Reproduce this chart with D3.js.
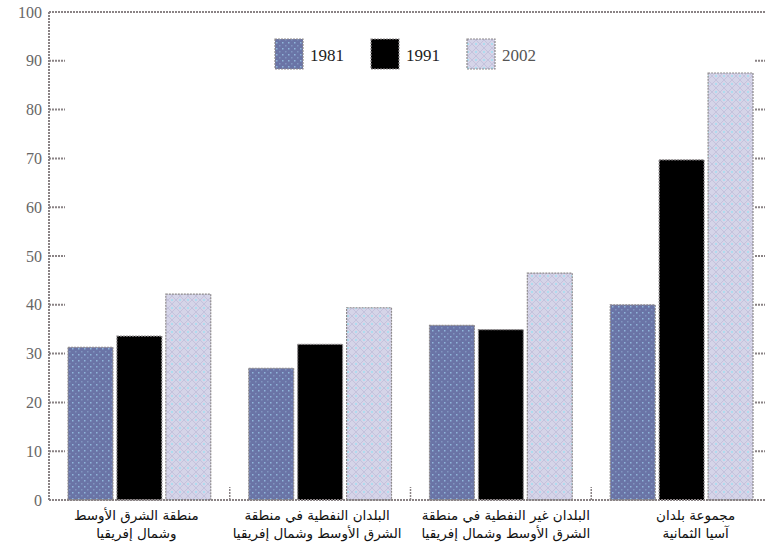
<!DOCTYPE html>
<html><head><meta charset="utf-8">
<script src="https://cdn.jsdelivr.net/npm/d3@7"></script>
<style>body{margin:0;background:#fff}svg{display:block}</style>
</head><body><svg id="c" width="765" height="550"></svg>
<script>
const categories = [
  ["منطقة الشرق الأوسط","وشمال إفريقيا"],
  ["البلدان النفطية في منطقة","الشرق الأوسط وشمال إفريقيا"],
  ["البلدان غير النفطية في منطقة","الشرق الأوسط وشمال إفريقيا"],
  ["مجموعة بلدان","آسيا الثمانية"]
];
const years = ["1981","1991","2002"];
const values1981 = [31.3, 27.0, 35.8, 40.0];
const values1991 = [33.6, 31.9, 34.9, 69.7];
const values2002 = [42.2, 39.4, 46.5, 87.5];
const yTicks = [0,10,20,30,40,50,60,70,80,90,100];

const series = [values1981, values1991, values2002];
const svg = d3.select("#c");
const L = 49, R = 772, T = 12, B = 500;
const labelShift = [-3, -3, 5, 14];

const defs = svg.append("defs");
const p1 = defs.append("pattern").attr("id","p1981").attr("patternUnits","userSpaceOnUse").attr("width",6).attr("height",6);
p1.append("rect").attr("width",6).attr("height",6).attr("fill","#6a74a6");
p1.append("rect").attr("x",0).attr("y",0).attr("width",1.5).attr("height",1.5).attr("fill","#8fb6da");
p1.append("rect").attr("x",3).attr("y",3).attr("width",1.5).attr("height",1.5).attr("fill","#7f95c0");
const p2 = defs.append("pattern").attr("id","p2002").attr("patternUnits","userSpaceOnUse").attr("width",8).attr("height",8);
p2.append("rect").attr("width",8).attr("height",8).attr("fill","#d5d4e8");
p2.append("path").attr("d","M0,4 L4,0 L8,4 L4,8 Z").attr("fill","none").attr("stroke","#c4c2dc").attr("stroke-width",1);
p2.append("rect").attr("x",3).attr("y",3).attr("width",2).attr("height",2).attr("fill","#aedcef");
const fills = ["url(#p1981)","#000000","url(#p2002)"];

const x0 = d3.scaleBand().domain(d3.range(categories.length)).range([L, R]).padding(0);
const x1 = d3.scaleBand().domain(years).range([19, x0.bandwidth()-19]).paddingInner(0.0816).paddingOuter(0);
const y = d3.scaleLinear().domain([0,100]).range([B, T]);

const dotted = {stroke:"#8a8385", "stroke-width":2, "stroke-dasharray":"2,1"};
function styl(sel){ for(const k in dotted) sel.attr(k, dotted[k]); return sel; }

years.forEach((yr, si) => {
  svg.append("g").selectAll("rect").data(series[si]).join("rect")
    .attr("x", (d,i) => x0(i) + x1(yr))
    .attr("y", d => y(d))
    .attr("width", x1.bandwidth())
    .attr("height", d => y(0) - y(d))
    .attr("fill", fills[si])
    .attr("stroke", "#8e8a8c").attr("stroke-width", 1.2).attr("stroke-dasharray","2,1");
});

styl(svg.append("line").attr("x1",L).attr("x2",R).attr("y1",T).attr("y2",T));
styl(svg.append("line").attr("x1",L).attr("x2",L).attr("y1",T).attr("y2",B));
styl(svg.append("line").attr("x1",R).attr("x2",R).attr("y1",T).attr("y2",B));
styl(svg.append("line").attr("x1",L).attr("x2",R).attr("y1",B).attr("y2",B));

const inner = yTicks.filter(t => t > 0 && t < 100);
inner.forEach(t => {
  styl(svg.append("line").attr("x1",L).attr("x2",L+16).attr("y1",y(t)).attr("y2",y(t)));
  styl(svg.append("line").attr("x1",R-17).attr("x2",R).attr("y1",y(t)).attr("y2",y(t)));
});
svg.append("g").selectAll("text").data(yTicks).join("text")
  .attr("x", 42).attr("y", d => y(d)).attr("dy","0.35em")
  .attr("text-anchor","end")
  .attr("font-family","'Liberation Serif', 'DejaVu Serif', serif").attr("font-size",16)
  .attr("fill","#666").text(d => d);

d3.range(1, categories.length).forEach(i => {
  styl(svg.append("line").attr("x1",x0(i)).attr("x2",x0(i)).attr("y1",B).attr("y2",B-13)).attr("stroke-width",1.5);
});

categories.forEach((lines, i) => {
  const cx = x0(i) + x0.bandwidth()/2 + labelShift[i];
  lines.forEach((ln, j) => {
    svg.append("text").attr("x", cx).attr("y", 515 + j*18).attr("dy","0.35em")
      .attr("text-anchor","middle").attr("direction","rtl")
      .attr("font-family","'DejaVu Sans', sans-serif").attr("font-size",13.5)
      .attr("fill","#111").text(ln);
  });
});

const legX = [275, 371, 467];
years.forEach((yr, si) => {
  svg.append("rect").attr("x", legX[si]).attr("y", 39).attr("width", 28).attr("height", 30)
    .attr("fill", fills[si]).attr("stroke","#8e8a8c").attr("stroke-width",1.2).attr("stroke-dasharray","2,1");
  svg.append("text").attr("x", legX[si] + 35).attr("y", 55).attr("dy","0.35em")
    .attr("font-family","'Liberation Serif', 'DejaVu Serif', serif").attr("font-size",17)
    .attr("fill", si === 2 ? "#555" : "#222").text(yr);
});
</script></body></html>
